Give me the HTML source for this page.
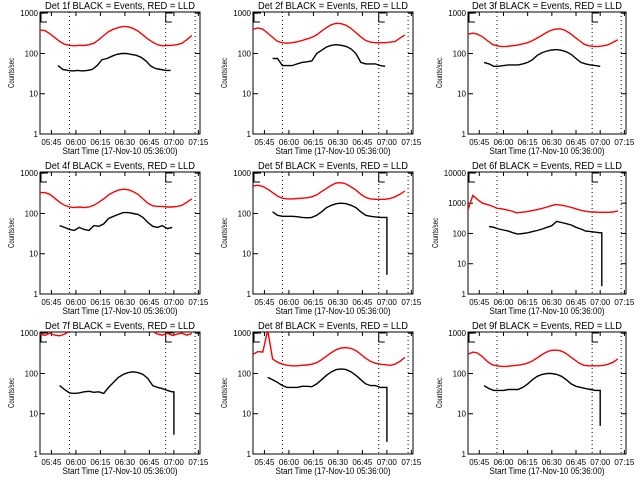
<!DOCTYPE html>
<html><head><meta charset="utf-8"><style>
html,body{margin:0;padding:0;background:#fff;}
svg{display:block;font-family:"Liberation Sans",sans-serif;}
</style></head><body>
<svg id="chart" width="640" height="480" viewBox="0 0 640 480"></svg>
<script>
// ---- data (times in minutes after 05:36:00, 3-minute sampling) ----
const detectors = ["1f","2f","3f","4f","5f","6f","7f","8f","9f"];
const xTickLabels = ["05:45","06:00","06:15","06:30","06:45","07:00","07:15"];
const xTickTimes = [9,24,39,54,69,84,99];
const markerTimes = [20,79,97];
const redStart = [2,2,2,2,2,2,2,2,2];
const red1 = [380,370,310,250,200,170,160,155,160,158,165,180,220,280,350,400,440,470,460,420,360,290,230,190,165,155,158,160,165,180,220,280];
const red2 = [400,430,400,320,250,200,185,180,185,195,210,230,250,290,360,440,520,560,550,500,420,330,260,210,190,185,185,185,190,200,240,290];
const red3 = [300,320,300,260,210,170,155,148,150,155,160,170,180,200,230,270,320,370,400,410,380,320,260,210,170,155,150,150,155,165,190,220];
const red4 = [330,330,300,240,190,160,145,140,145,140,145,160,190,230,290,340,380,400,390,350,300,230,180,155,150,150,145,145,150,160,190,230];
const red5 = [480,500,470,400,330,270,240,230,230,235,240,245,260,290,350,420,500,570,580,540,460,380,300,250,230,225,225,225,235,260,300,360];
const red6 = [600,1800,1300,1000,900,800,680,650,600,550,480,500,520,560,600,650,720,800,900,880,820,750,680,600,550,520,510,500,500,500,510,560];
const red7 = [950,880,1000,900,860,950,1100,1300,1500,1800,2000,2200,2400,2500,2600,2600,2500,2400,2200,2000,1800,1500,1300,1100,950,900,1000,880,950,1000,900,980];
const red8 = [300,350,340,1200,230,190,170,160,155,155,160,162,170,185,220,270,330,390,430,440,420,370,300,240,200,180,170,165,160,170,200,250];
const red9 = [300,340,320,260,200,165,155,150,150,155,160,165,175,195,230,280,330,370,380,370,330,270,220,180,160,155,155,155,160,170,190,230];
const blackStart = [13,14,12,14,14,15,14,11,12];
const black1 = [50,40,38,37,38,37,38,40,50,70,75,85,95,100,100,95,90,80,65,48,42,40,38,38];
const black2 = [75,75,50,50,50,55,60,62,65,100,120,145,160,165,160,150,130,100,60,55,55,55,50,48];
const black3 = [60,55,48,48,50,52,52,52,55,60,70,90,105,115,122,125,120,110,95,75,60,55,52,50,48];
const black4 = [50,45,40,38,45,40,38,50,48,55,75,85,95,105,105,100,95,80,60,48,45,50,42,45];
const black5 = [110,90,85,85,85,83,80,78,80,90,110,140,160,175,180,175,160,140,110,90,85,82,80,80];
const black6 = [170,160,140,130,120,105,95,100,105,115,125,140,160,180,250,230,210,190,160,140,120,115,110,105];
const black7 = [50,40,33,32,33,35,36,34,35,32,45,60,80,95,105,110,105,95,75,50,45,42,38,35];
const black8 = [80,70,60,50,45,45,45,48,48,47,55,70,90,110,125,130,125,110,90,70,55,50,50,45,45];
const black9 = [50,42,38,38,38,40,40,40,45,55,70,85,95,100,100,95,85,70,55,48,45,42,40,38];
const dropTime = [null,null,null,null,84,85,84,84,84];
const dropValue = [null,null,null,null,3,1.8,3,2,5];
const yDecades = [3,3,3,3,3,4,3,3,3];

const reds=[red1,red2,red3,red4,red5,red6,red7,red8,red9];
const blacks=[black1,black2,black3,black4,black5,black6,black7,black8,black9];
const NS="http://www.w3.org/2000/svg";
const svg=document.getElementById('chart');
function mk(tag,attrs,parent){const e=document.createElementNS(NS,tag);for(const k in attrs)e.setAttribute(k,attrs[k]);(parent||svg).appendChild(e);return e;}
const colLeft=[40,253,468], colRight=[200,413,626];

for(let p=0;p<9;p++){
  const r=Math.floor(p/3), c=p%3;
  const L=colLeft[c], R=colRight[c], T=12+160*r, B=134+160*r;
  const dec=yDecades[p];
  const g=mk('g',{});
  
  
  const xs=t=>L+(t-2)/98*(R-L);
  const ys=v=>B-Math.log10(Math.max(v,0.5))/(dec+0.03)*(B-T);
  const clip=mk('clipPath',{id:'clip'+p},g);
  mk('rect',{x:L,y:T,width:R-L,height:B-T},clip);
  // title
  const ti=mk('text',{x:(L+R)/2,y:T-3,'text-anchor':'middle','font-size':10,textLength:150,lengthAdjust:'spacingAndGlyphs'},g);
  ti.textContent='Det '+detectors[p]+' BLACK = Events, RED = LLD';
  
  
  // box
  const box=mk('rect',{x:L,y:T,width:R-L,height:B-T,fill:'none',stroke:'#000','stroke-width':1},g);
  
  
  // y ticks
  for(let d=0;d<=dec;d++){
    const y=ys(Math.pow(10,d));
    mk('line',{x1:L,x2:L+5,y1:y,y2:y,stroke:'#000'},g);
    mk('line',{x1:R-5,x2:R,y1:y,y2:y,stroke:'#000'},g);
    const tl=mk('text',{x:L-2,y:y+3,'text-anchor':'end','font-size':8},g);
    tl.textContent=String(Math.pow(10,d));
    
    
  }
  // x ticks
  for(let i=0;i<xTickTimes.length;i++){
    const x=xs(xTickTimes[i]);
    mk('line',{x1:x,x2:x,y1:B,y2:B-4,stroke:'#000'},g);
    mk('line',{x1:x,x2:x,y1:T,y2:T+4,stroke:'#000'},g);
    const tl=mk('text',{x:x,y:B+11,'text-anchor':'middle','font-size':8},g);
    tl.textContent=xTickLabels[i];
    
    
  }
  const xl=mk('text',{x:(L+R)/2,y:B+20,'text-anchor':'middle','font-size':9,textLength:115,lengthAdjust:'spacingAndGlyphs'},g);
  xl.textContent='Start Time (17-Nov-10 05:36:00)';
  
  
  const yl=mk('text',{x:0,y:0,'text-anchor':'middle','font-size':8,textLength:30,lengthAdjust:'spacingAndGlyphs',transform:'translate('+(L-26-(dec>3?4:0))+','+((T+B)/2)+') rotate(-90)'},g);
  yl.textContent='Counts/sec';
  
  
  // dotted markers
  for(const mt of markerTimes){
    const x=xs(mt);
    const ml=mk('line',{x1:x,x2:x,y1:T,y2:B,stroke:'#000','stroke-dasharray':'1,3'},g);
    
    
  }
  // E markers
  for(const ex of [L+1,xs(markerTimes[1])]){
    const e=mk('path',{d:`M${ex+7},${T+1}H${ex}V${T+10}H${ex+6}M${ex},${T+1}`,fill:'none',stroke:'#000'},g);
    
    
  }
  const cg=mk('g',{'clip-path':'url(#clip'+p+')'},g);
  // red series
  const rp=reds[p].map((v,i)=>xs(redStart[p]+3*i).toFixed(1)+','+ys(v).toFixed(1)).join(' ');
  const rl=mk('polyline',{points:rp,fill:'none',stroke:'#ff0000','stroke-width':1.4},cg);
  
  
  // black series
  let bpts=blacks[p].map((v,i)=>[xs(blackStart[p]+3*i),ys(v)]);
  if(dropTime[p]!==null){
    const last=blacks[p][blacks[p].length-1];
    bpts.push([xs(dropTime[p]),ys(last)]);
    bpts.push([xs(dropTime[p]),ys(dropValue[p])]);
  }
  const bl=mk('polyline',{points:bpts.map(q=>q[0].toFixed(1)+','+q[1].toFixed(1)).join(' '),fill:'none',stroke:'#000','stroke-width':1.4},cg);
  
  
}
</script>
</body></html>
